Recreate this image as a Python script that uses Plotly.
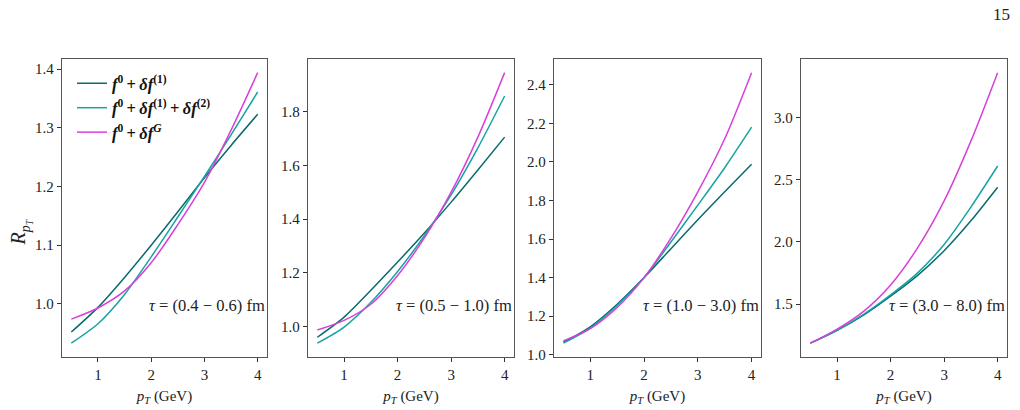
import plotly.graph_objects as go

# ---------------- data ----------------
pt = [0.5, 1.0, 1.5, 2.0, 2.5, 3.0, 3.5, 4.0]
x_ticks = [1, 2, 3, 4]

tau_labels = ["(0.4 − 0.6)", "(0.5 − 1.0)", "(1.0 − 3.0)", "(3.0 − 8.0)"]

# panel 1: tau = 0.4-0.6 fm
p1_d1 = [0.952, 0.994, 1.045, 1.100, 1.157, 1.215, 1.270, 1.323]
p1_d2 = [0.933, 0.966, 1.016, 1.080, 1.148, 1.217, 1.288, 1.361]
p1_G = [0.974, 0.993, 1.022, 1.070, 1.135, 1.207, 1.296, 1.394]
# panel 2: tau = 0.5-1.0 fm
p2_d1 = [0.960, 1.035, 1.135, 1.240, 1.348, 1.463, 1.583, 1.705]
p2_d2 = [0.938, 0.998, 1.090, 1.205, 1.338, 1.490, 1.665, 1.858]
p2_G = [0.987, 1.023, 1.083, 1.190, 1.330, 1.500, 1.705, 1.945]
# panel 3: tau = 1.0-3.0 fm
p3_d1 = [1.065, 1.145, 1.262, 1.400, 1.550, 1.700, 1.845, 1.988]
p3_d2 = [1.060, 1.138, 1.255, 1.400, 1.585, 1.776, 1.970, 2.180]
p3_G = [1.072, 1.135, 1.245, 1.400, 1.605, 1.845, 2.120, 2.463]
# panel 4: tau = 3.0-8.0 fm
p4_d1 = [1.187, 1.290, 1.415, 1.565, 1.730, 1.930, 2.170, 2.440]
p4_d2 = [1.187, 1.290, 1.420, 1.575, 1.750, 1.980, 2.280, 2.610]
p4_G = [1.187, 1.300, 1.445, 1.655, 1.950, 2.330, 2.810, 3.360]

y_ticks = [
    [1.0, 1.1, 1.2, 1.3, 1.4],
    [1.0, 1.2, 1.4, 1.6, 1.8],
    [1.0, 1.2, 1.4, 1.6, 1.8, 2.0, 2.2, 2.4],
    [1.5, 2.0, 2.5, 3.0],
]

PLUS = "&#8201;+&#8201;"
series_names = [
    "<b><i>f</i><sup>0</sup>" + PLUS + "<i>δf</i><sup>(1)</sup></b>",
    "<b><i>f</i><sup>0</sup>" + PLUS + "<i>δf</i><sup>(1)</sup>" + PLUS + "<i>δf</i><sup>(2)</sup></b>",
    "<b><i>f</i><sup>0</sup>" + PLUS + "<i>δf</i><sup><i>G</i></sup></b>",
]
colors = ["#0a6b6c", "#17a3a3", "#d93fd9"]

panels = [
    [p1_d1, p1_d2, p1_G],
    [p2_d1, p2_d2, p2_G],
    [p3_d1, p3_d2, p3_G],
    [p4_d1, p4_d2, p4_G],
]

# ---------------- layout geometry ----------------
W, H = 1020, 410
x_dom_px = [(62, 267), (308, 514), (554, 761), (801, 1007)]
y_dom_px = (60, 362)
FONT = "Liberation Serif"
FRAME = "#555555"
TXT = "#222222"

fig = go.Figure()

for i, series in enumerate(panels):
    ax = "" if i == 0 else str(i + 1)
    for j, ys in enumerate(series):
        fig.add_trace(go.Scatter(
            x=pt, y=ys, mode="lines",
            line=dict(color=colors[j], width=1.5, shape="spline", smoothing=0.8),
            name=series_names[j],
            showlegend=(i == 0),
            xaxis="x" + ax, yaxis="y" + ax,
        ))

layout = dict(
    width=W, height=H,
    margin=dict(l=0, r=0, t=0, b=0),
    paper_bgcolor="white", plot_bgcolor="white",
    font=dict(family=FONT, size=15, color=TXT),
    showlegend=True,
    legend=dict(
        x=72 / W, y=1 - 67 / H, xanchor="left", yanchor="top",
        bgcolor="rgba(255,255,255,0)", borderwidth=0,
        font=dict(family=FONT, size=16.5, color="#111111"),
        itemwidth=30, tracegroupgap=0,
    ),
)

annotations = []
for i in range(4):
    ax = "" if i == 0 else str(i + 1)
    allv = [v for s in panels[i] for v in s]
    lo, hi = min(allv), max(allv)
    pad = 0.05 * (hi - lo)
    x0, x1 = x_dom_px[i]
    layout["xaxis" + ax] = dict(
        domain=[x0 / W, x1 / W],
        range=[0.325, 4.175],
        anchor="y" + ax,
        tickvals=x_ticks,
        ticks="outside", ticklen=4, tickwidth=1, tickcolor="#333333",
        showline=True, linecolor=FRAME, linewidth=1.3, mirror=True,
        showgrid=False, zeroline=False,
        tickfont=dict(family=FONT, size=15, color=TXT),
        title=dict(text="<i>p<sub>T</sub></i> (GeV)", standoff=8,
                   font=dict(family=FONT, size=15, color=TXT)),
    )
    layout["yaxis" + ax] = dict(
        domain=[1 - y_dom_px[1] / H, 1 - y_dom_px[0] / H],
        range=[lo - pad, hi + pad],
        anchor="x" + ax,
        tickvals=y_ticks[i],
        tickformat=".1f",
        ticks="outside", ticklen=4, tickwidth=1, tickcolor="#333333",
        showline=True, linecolor=FRAME, linewidth=1.3, mirror=True,
        showgrid=False, zeroline=False,
        tickfont=dict(family=FONT, size=15, color=TXT),
    )
    annotations.append(dict(
        text="<i>τ</i> = " + tau_labels[i] + " fm",
        xref="x" + ax + " domain", yref="y" + ax + " domain",
        x=1.0, y=0.172, xanchor="right", yanchor="middle",
        showarrow=False,
        font=dict(family=FONT, size=16.5, color=TXT),
    ))

annotations.append(dict(
    text="<i>R<sub>p<sub>T</sub></sub></i>",
    xref="paper", yref="paper", x=21 / W, y=1 - 236 / H,
    textangle=-90, showarrow=False, xanchor="center", yanchor="middle",
    font=dict(family=FONT, size=20, color=TXT),
))
annotations.append(dict(
    text="15", xref="paper", yref="paper", x=1012 / W, y=1 - 15 / H,
    xanchor="right", yanchor="middle", showarrow=False,
    font=dict(family=FONT, size=17, color=TXT),
))
layout["annotations"] = annotations

fig.update_layout(**layout)
fig.write_html("out.html")
